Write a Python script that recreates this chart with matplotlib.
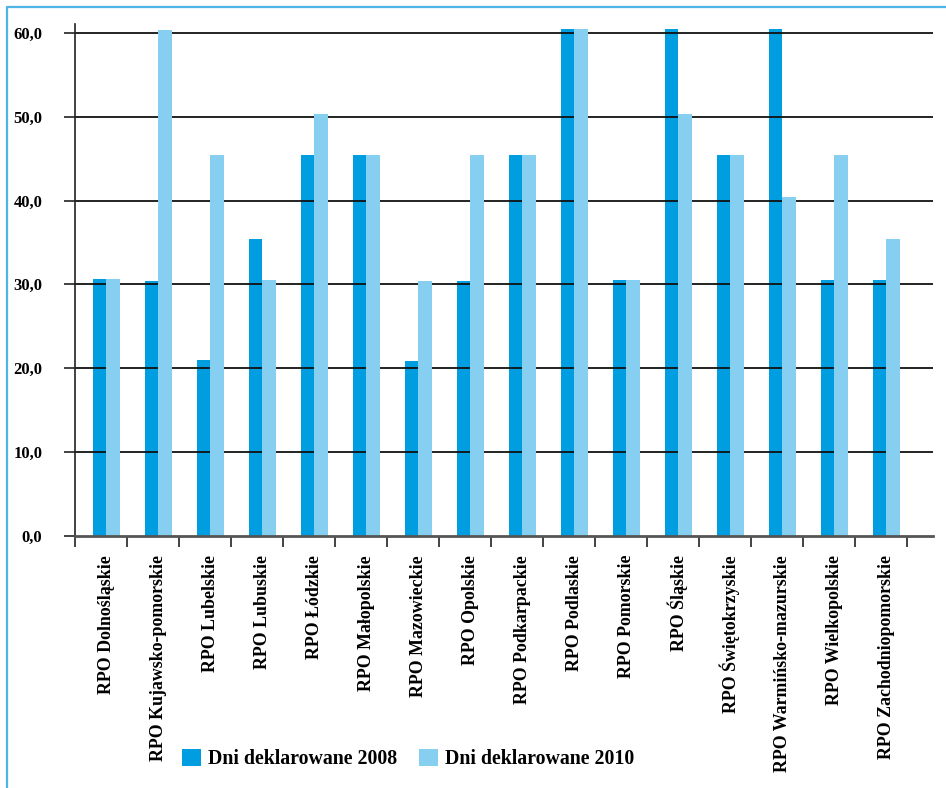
import matplotlib
matplotlib.use("Agg")
import matplotlib.pyplot as plt
from matplotlib.patches import Patch
from matplotlib.lines import Line2D
from matplotlib.ticker import FixedLocator, FuncFormatter
import numpy as np

regions = [
    "RPO Dolnośląskie", "RPO Kujawsko-pomorskie", "RPO Lubelskie", "RPO Lubuskie",
    "RPO Łódzkie", "RPO Małopolskie", "RPO Mazowieckie", "RPO Opolskie",
    "RPO Podkarpackie", "RPO Podlaskie", "RPO Pomorskie", "RPO Śląskie",
    "RPO Świętokrzyskie", "RPO Warmińsko-mazurskie", "RPO Wielkopolskie",
    "RPO Zachodniopomorskie",
]
days_2008 = [30.6, 30.4, 21.0, 35.4, 45.4, 45.4, 20.8, 30.4,
             45.4, 60.5, 30.5, 60.5, 45.4, 60.5, 30.5, 30.5]
days_2010 = [30.6, 60.4, 45.4, 30.5, 50.4, 45.4, 30.4, 45.4,
             45.4, 60.5, 30.5, 50.4, 45.4, 40.4, 45.4, 35.4]
series_names = ["Dni deklarowane 2008", "Dni deklarowane 2010"]
y_ticks = [0, 10, 20, 30, 40, 50, 60]

DARK = "#009EE0"
LIGHT = "#87CFF0"
FRAME = "#4DB6E6"
FONT = ["Liberation Serif", "DejaVu Serif"]

plt.rcParams["font.family"] = FONT
plt.rcParams["font.weight"] = "bold"

W, H = 946, 788
fig = plt.figure(figsize=(W / 100, H / 100), dpi=100)
ax = fig.add_axes([75 / W, 1 - 535.5 / H, (933 - 75) / W, (535.5 - 24) / H])

x = np.arange(len(regions))
bw = 0.26
ax.bar(x - 0.03, days_2008, width=bw, color=DARK, zorder=1, label=series_names[0])
ax.bar(x + 0.23, days_2010, width=bw, color=LIGHT, zorder=3, label=series_names[1])

ax.set_xlim(-0.5, len(regions))
ax.set_ylim(0, 61.1)

# horizontal grid sits between the two series
for yv in y_ticks[1:]:
    ax.axhline(yv, color="#111111", lw=1.3, zorder=2)

# y axis
ax.yaxis.set_major_locator(FixedLocator(y_ticks))
ax.yaxis.set_major_formatter(FuncFormatter(lambda v, p: f"{v:.1f}".replace(".", ",")))
ax.tick_params(axis="y", direction="out", length=8, width=1.2, color="#222222",
               pad=15.5, labelsize=12)

# x axis: tick marks between groups, labels under each group
ax.xaxis.set_major_locator(FixedLocator(np.arange(len(regions) + 1) - 0.5))
ax.xaxis.set_major_formatter(FuncFormatter(lambda v, p: ""))
ax.xaxis.set_minor_locator(FixedLocator(x + 0.1))
ax.set_xticklabels(regions, minor=True, rotation=90, fontsize=12.9, va="top", ha="center")
ax.tick_params(axis="x", which="major", direction="out", length=8, width=1.2, color="#222222")
ax.tick_params(axis="x", which="minor", length=0, pad=14)

for s in ["top", "right"]:
    ax.spines[s].set_visible(False)
ax.spines["left"].set_color("#222222")
ax.spines["left"].set_linewidth(1.2)
ax.spines["bottom"].set_color("#555555")
ax.spines["bottom"].set_linewidth(2.0)
ax.spines["bottom"].set_zorder(4)

handles = [Patch(facecolor=DARK, edgecolor="none"), Patch(facecolor=LIGHT, edgecolor="none")]
fig.legend(handles, series_names, loc="center left", bbox_to_anchor=(182 / W, 1 - 759 / H),
           ncol=2, frameon=False, fontsize=14.3, handlelength=0.96, handleheight=0.96,
           handletextpad=0.36, columnspacing=1.1, borderpad=0, borderaxespad=0)

# thin outline along the left and top edges of the figure
fig.add_artist(Line2D([7 / W, 7 / W, 1.0], [0.0, 1 - 7 / H, 1 - 7 / H],
                      transform=fig.transFigure, color=FRAME, lw=1.6))

fig.savefig("out.png", dpi=100)
